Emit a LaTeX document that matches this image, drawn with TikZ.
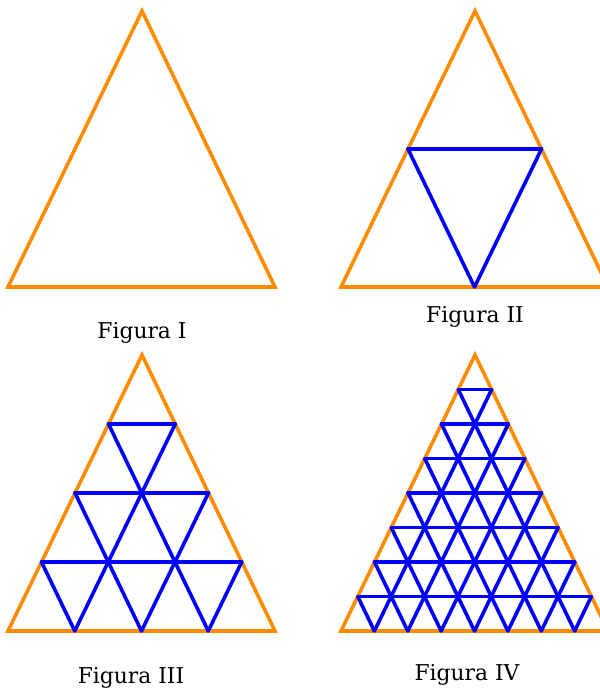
\documentclass[tikz,border=0pt]{standalone}
\usepackage{fontspec}
\setmainfont{DejaVu Serif}
\usetikzlibrary{calc}
\definecolor{tri}{RGB}{255,140,0}
\definecolor{sub}{RGB}{0,0,255}
\begin{document}
\begin{tikzpicture}[x=1pt,y=-1pt,
  outer/.style={draw=tri,line width=3.6pt,line join=miter},
  inner/.style={draw=sub,line width=3.6pt,line cap=round},
  lbl/.style={font=\fontsize{21.8}{26}\selectfont,inner sep=0pt,text=black}]
\useasboundingbox (0,0) rectangle (600,689);
\clip (0,0) rectangle (600,689);
% Figura I
\coordinate (A1) at (142,11); \coordinate (L1) at (8,287); \coordinate (R1) at (275,287);
\draw[outer] (L1) -- (A1) -- (R1) -- cycle;
% Figura II
\coordinate (A2) at (475,11); \coordinate (L2) at (341,287); \coordinate (R2) at (608,287);
\draw[outer] (L2) -- (A2) -- (R2) -- cycle;
\foreach \k in {1} {
  \draw[inner] ($(A2)!\k/2!(L2)$) -- ($(A2)!\k/2!(R2)$);
  \draw[inner] ($(L2)!\k/2!(R2)$) -- ($(A2)!\k/2!(R2)$);
  \draw[inner] ($(R2)!\k/2!(L2)$) -- ($(A2)!\k/2!(L2)$);
}
% Figura III
\coordinate (A3) at (142,355); \coordinate (L3) at (8,631); \coordinate (R3) at (275,631);
\draw[outer] (L3) -- (A3) -- (R3) -- cycle;
\foreach \k in {1,2,3} {
  \draw[inner] ($(A3)!\k/4!(L3)$) -- ($(A3)!\k/4!(R3)$);
  \draw[inner] ($(L3)!\k/4!(R3)$) -- ($(A3)!\k/4!(R3)$);
  \draw[inner] ($(R3)!\k/4!(L3)$) -- ($(A3)!\k/4!(L3)$);
}
% Figura IV
\coordinate (A4) at (475,355); \coordinate (L4) at (341,631); \coordinate (R4) at (608,631);
\draw[outer] (L4) -- (A4) -- (R4) -- cycle;
\foreach \k in {1,...,7} {
  \draw[inner] ($(A4)!\k/8!(L4)$) -- ($(A4)!\k/8!(R4)$);
  \draw[inner] ($(L4)!\k/8!(R4)$) -- ($(A4)!\k/8!(R4)$);
  \draw[inner] ($(R4)!\k/8!(L4)$) -- ($(A4)!\k/8!(L4)$);
}
% labels
\node[lbl] (t1) at (142,333) {Figura I};
\node[lbl] (t2) at (475,317) {Figura II};
\node[lbl] (t3) at (131,678) {Figura III};
\node[lbl] (t4) at (467,675) {Figura IV};
\end{tikzpicture}
\end{document}
